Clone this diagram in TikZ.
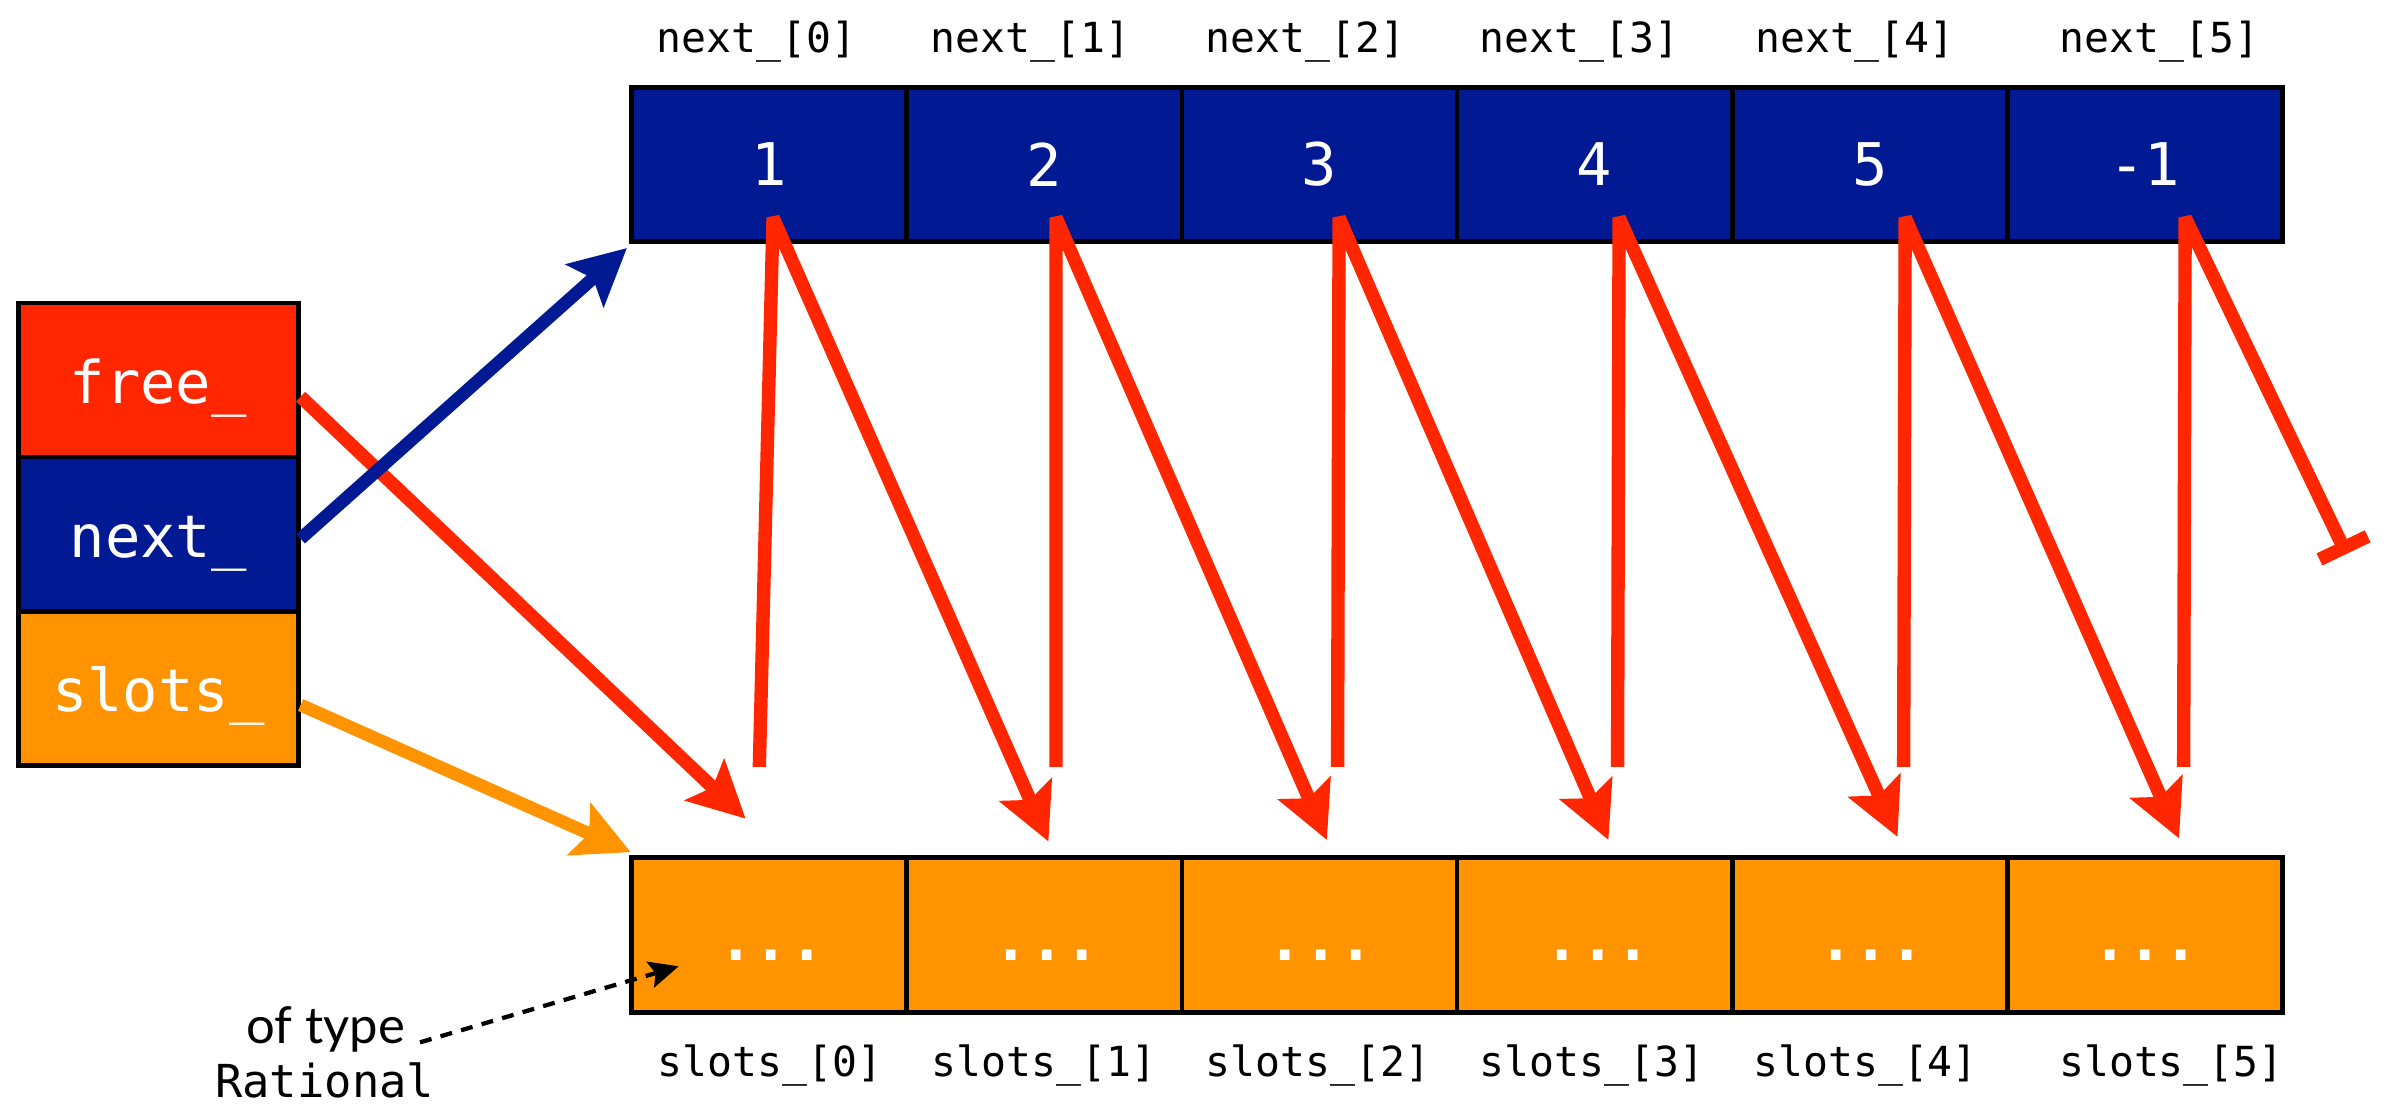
\documentclass[tikz,border=0pt]{standalone}
\usepackage{fontspec}
\setmainfont{Lato}
\setmonofont{DejaVu Sans Mono}
\usetikzlibrary{arrows.meta,calc}
\definecolor{kred}{HTML}{FF2600}
\definecolor{kblue}{HTML}{011993}
\definecolor{korange}{HTML}{FF9300}
\begin{document}
\begin{tikzpicture}[x=0.02cm,y=-0.02cm,
  cell/.style={draw=black,line width=1.8pt,minimum width=3.6167cm,minimum height=2.03cm,
    inner sep=0pt,font=\ttfamily\fontsize{22}{26}\selectfont,text=white},
  ncell/.style={cell,fill=kblue},
  scell/.style={cell,fill=korange},
  fcell/.style={cell,minimum width=3.68cm,minimum height=2.026cm,text height=17.5pt,text depth=0pt},
  dotstxt/.style={inner sep=0pt,anchor=base,text=white,font=\ttfamily\bfseries\fontsize{22}{26}\selectfont},
  lab/.style={inner sep=0pt,anchor=base,font=\ttfamily\fontsize{15.5}{18}\selectfont},
  bigtip/.style={-{Stealth[length=21pt,width=21pt,inset=4pt]}},
  redline/.style={draw=kred,line width=5pt,line join=bevel,line cap=butt},
]
\useasboundingbox (0,0) rectangle (1568,727);

% struct
\node[fcell,fill=kred]    (free)   at (104,249.7) {free\_};
\node[fcell,fill=kblue]   (next)   at (104,351)   {next\_};
\node[fcell,fill=korange] (slotsn) at (104,452.3) {slots\_};

% next_ array
\node[ncell] (n0) at (505.4,108) {1};
\node[ncell] (n1) at (686.3,108) {2};
\node[ncell] (n2) at (867.1,108) {3};
\node[ncell] (n3) at (1047.9,108) {4};
\node[ncell] (n4) at (1228.8,108) {5};
\node[ncell] (n5) at (1409.6,108) {-1};

% slots_ array
\node[scell] (s0) at (505.4,614.5) {};
\node[scell] (s1) at (686.3,614.5) {};
\node[scell] (s2) at (867.1,614.5) {};
\node[scell] (s3) at (1047.9,614.5) {};
\node[scell] (s4) at (1228.8,614.5) {};
\node[scell] (s5) at (1409.6,614.5) {};

\node[dotstxt] (d0) at (507,631) {...};
\node[dotstxt] (d1) at (688,631) {...};
\node[dotstxt] (d2) at (868,631) {...};
\node[dotstxt] (d3) at (1050,631) {...};
\node[dotstxt] (d4) at (1230,631) {...};
\node[dotstxt] (d5) at (1410,631) {...};

% labels
\node[lab] (ln0) at (497,34.5) {next\_[0]};
\node[lab] (ln1) at (677,34.5) {next\_[1]};
\node[lab] (ln2) at (858,34.5) {next\_[2]};
\node[lab] (ln3) at (1038,34.5) {next\_[3]};
\node[lab] (ln4) at (1219,34.5) {next\_[4]};
\node[lab] (ln5) at (1419,34.5) {next\_[5]};

\node[lab] (ls0) at (506,707.5) {slots\_[0]};
\node[lab] (ls1) at (686,707.5) {slots\_[1]};
\node[lab] (ls2) at (866,707.5) {slots\_[2]};
\node[lab] (ls3) at (1046,707.5) {slots\_[3]};
\node[lab] (ls4) at (1226,707.5) {slots\_[4]};
\node[lab] (ls5) at (1427,707.5) {slots\_[5]};

\node[inner sep=0pt,anchor=base,font=\fontsize{19}{22}\selectfont] (oftype) at (214,685.5) {of type};
\node[inner sep=0pt,anchor=base,font=\ttfamily\fontsize{17}{20}\selectfont] (rational) at (213.4,721.5) {Rational};

% coordinates
\coordinate (ft) at (490,538);
\coordinate (nt) at (412,163);
\coordinate (ot) at (414.5,560);
\coordinate (b0) at (499,504);  \coordinate (a0) at (508,143);
\coordinate (b1) at (694,504);  \coordinate (a1) at (694,143);  \coordinate (t1) at (689,553);
\coordinate (b2) at (879,504);  \coordinate (a2) at (880,143);  \coordinate (t2) at (872,552);
\coordinate (b3) at (1063,504); \coordinate (a3) at (1064,143); \coordinate (t3) at (1057,552);
\coordinate (b4) at (1251,504); \coordinate (a4) at (1252,143); \coordinate (t4) at (1247,550);
\coordinate (b5) at (1435,504); \coordinate (a5) at (1436,143); \coordinate (t5) at (1432,551);
\coordinate (e5) at (1542,364);
\coordinate (ots) at (276,685);
\coordinate (dt) at (446,635);

% struct pointers
\draw[redline,bigtip] ($(free.east)+(0,11)$) -- (ft);
\draw[korange,line width=4.8pt,bigtip] ($(slotsn.east)+(0,11)$) -- (ot);
\draw[kblue,line width=4.8pt,bigtip] ($(next.east)+(0,3)$) -- (nt);

% free list links
\draw[redline,bigtip] (b0) -- (a0) -- (t1);
\draw[redline,bigtip] (b1) -- (a1) -- (t2);
\draw[redline,bigtip] (b2) -- (a2) -- (t3);
\draw[redline,bigtip] (b3) -- (a3) -- (t4);
\draw[redline,bigtip] (b4) -- (a4) -- (t5);
\draw[redline,-{Bar[width=20pt]}] (b5) -- (a5) -- (e5);

% type annotation
\draw[black,line width=1.6pt,dash pattern=on 4.5pt off 3.5pt,
  -{Stealth[length=11pt,width=10pt,inset=2pt]}] (ots) -- (dt);
\end{tikzpicture}
\end{document}
